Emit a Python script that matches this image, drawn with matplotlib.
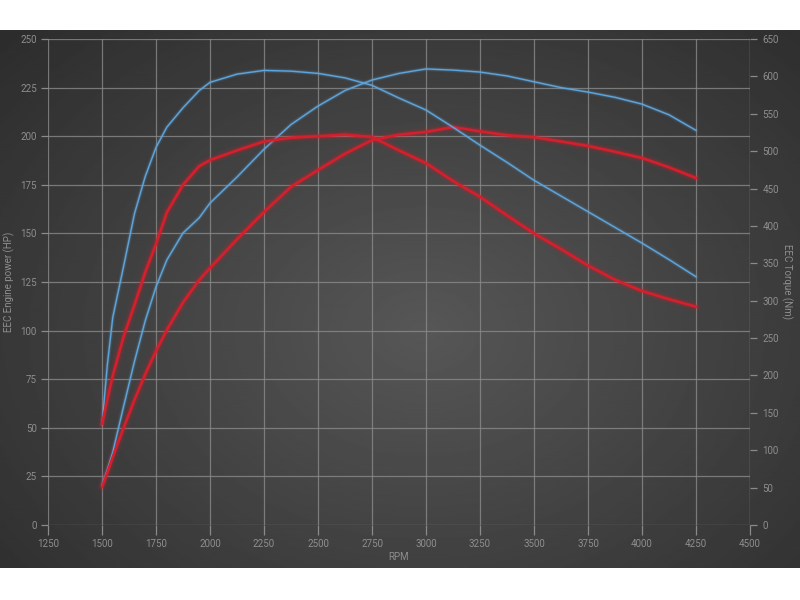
import numpy as np
import matplotlib
matplotlib.use('Agg')
import matplotlib.pyplot as plt

plt.rcParams['font.family'] = ['Roboto', 'DejaVu Sans']

## Dyno readings
rpm = [1500, 1525, 1550, 1600, 1650, 1700, 1750, 1800, 1875, 1950, 2000,
       2125, 2250, 2375, 2500, 2625, 2750, 2875, 3000, 3125, 3250,
       3375, 3500, 3625, 3750, 3875, 4000, 4125, 4250]

power_blue = [20.6, 28.5, 37.5, 61, 84, 105, 122.5, 136.3, 150.2, 158, 165.6,
              179, 193.3, 206, 215.5, 223.5, 228.9, 232.3, 234.6, 234, 233,
              231, 228, 225, 222.7, 220, 216.5, 211, 203]
torque_blue = [134, 215, 278, 346, 416, 466, 505, 532, 558, 581, 592,
               603, 608, 607, 604, 598, 588, 571, 555, 532, 508,
               485, 461, 440, 419, 398, 377, 355, 332]
power_red = [19.5, 27, 35, 50, 64.3, 77.5, 89.5, 100.3, 114.5, 126, 132.2,
             147, 161, 174, 182.6, 191, 198, 200.8, 202.2, 204.7, 202.5,
             200.5, 199.5, 197.3, 195, 192, 188.8, 184, 178.5]
torque_red = [135, 168, 200, 252, 294, 338, 376, 418, 455, 480, 488,
              501, 513, 518, 520, 522, 519, 501, 484, 460, 439,
              414, 390, 369, 347, 328, 313, 302, 292]

x_ticks = list(range(1250, 4501, 250))
hp_ticks = list(range(0, 251, 25))
nm_ticks = list(range(0, 651, 50))

text_col = '#8e8e8e'
grid_col = '#8a8a8a'
blue = '#5ea5dc'
red = '#d41f2c'


def glow_line(ax, x, y, col, lw):
    ax.plot(x, y, color=col, lw=lw * 3.5, alpha=0.10, solid_capstyle='round', zorder=3)
    ax.plot(x, y, color=col, lw=lw * 2.0, alpha=0.22, solid_capstyle='round', zorder=3)
    ax.plot(x, y, color=col, lw=lw, solid_capstyle='round', zorder=4)


fig = plt.figure(figsize=(8, 6), dpi=100)
fig.patch.set_facecolor('white')

## dark panel with a radial gradient
bg = fig.add_axes([0, 32 / 600, 1, 538 / 600])
bg.axis('off')
yy, xx = np.mgrid[0:1:300j, 0:1:400j]
r = np.sqrt(((xx - 0.53) / 0.75) ** 2 + ((yy - 0.56) / 0.85) ** 2)
img = 0.34 + (0.168 - 0.34) * np.clip(r, 0, 1)
bg.imshow(img, cmap='gray', vmin=0, vmax=1, aspect='auto',
          extent=[0, 1, 0, 1], interpolation='bilinear')

ax = fig.add_axes([48 / 800, 75 / 600, 702 / 800, 486 / 600])
ax.set_facecolor('none')
ax2 = ax.twinx()
ax2.set_facecolor('none')

for a in (ax, ax2):
    for s in a.spines.values():
        s.set_visible(False)

ax.set_xlim(1250, 4500)
ax.set_ylim(0, 250)
ax2.set_ylim(0, 650)
ax.set_xticks(x_ticks)
ax.set_yticks(hp_ticks)
ax2.set_yticks(nm_ticks)

ax.grid(True, color=grid_col, lw=0.9, alpha=0.8)
ax.set_axisbelow(True)
ax.axvline(4500, color=grid_col, lw=0.9, alpha=0.8)

ax.tick_params(axis='x', colors=grid_col, labelcolor=text_col, labelsize=7, length=7, width=0.9, pad=3)
ax.tick_params(axis='y', colors=grid_col, labelcolor=text_col, labelsize=7, length=5, width=0.9, pad=3)
ax2.tick_params(axis='y', colors=grid_col, labelcolor=text_col, labelsize=7, length=5, width=0.9, pad=4)

glow_line(ax, rpm, power_blue, blue, 1.0)
glow_line(ax, rpm, power_red, red, 1.9)
glow_line(ax2, rpm, torque_blue, blue, 1.0)
glow_line(ax2, rpm, torque_red, red, 1.9)

ax.set_xlabel('RPM', color=text_col, fontsize=7, labelpad=2)
ax.set_ylabel('EEC Engine power (HP)', color=text_col, fontsize=7, labelpad=4)
ax2.set_ylabel('EEC Torque (Nm)', color=text_col, fontsize=7, rotation=270, labelpad=10)

plt.savefig('out.png', dpi=100)
